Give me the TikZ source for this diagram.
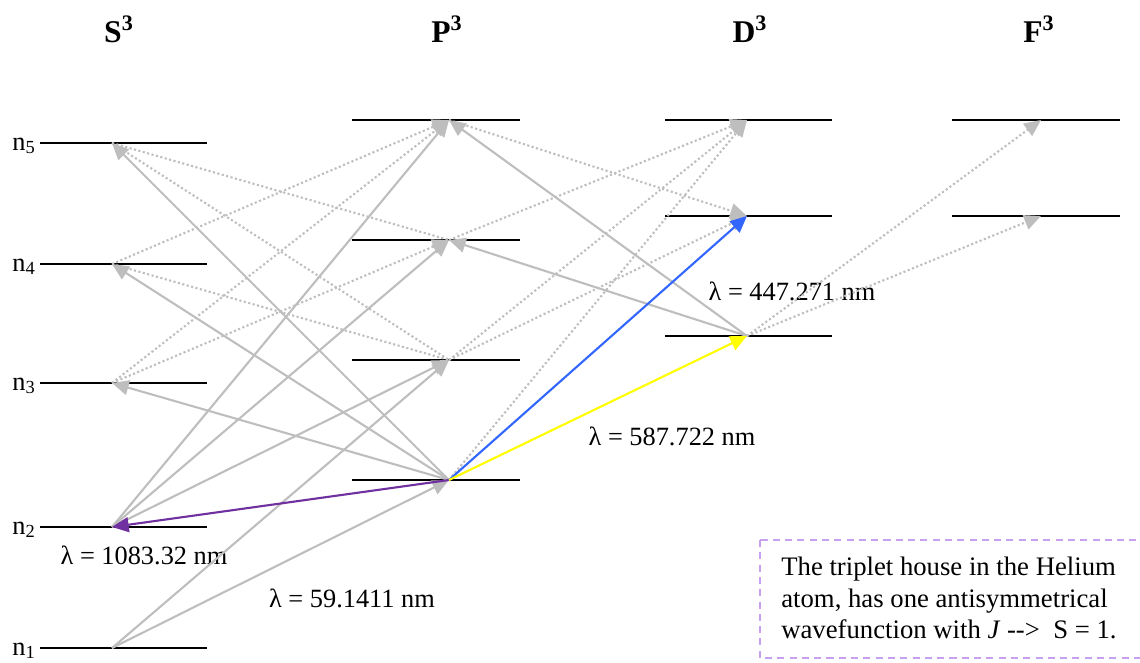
\documentclass[tikz,border=0pt]{standalone}
\usepackage{fontspec}
\setmainfont{Liberation Serif}
\usetikzlibrary{arrows.meta}
\definecolor{linegray}{RGB}{190, 190, 190}
\definecolor{heblue}{RGB}{51, 102, 255}
\definecolor{heyellow}{RGB}{255, 255, 0}
\definecolor{hepurple}{RGB}{112, 48, 160}
\definecolor{boxlilac}{RGB}{200, 160, 240}

\tikzset{
    termline/.style={black, line width=1.2pt},
    trans/.style={linegray, line width=1.2pt, -{Triangle[length=9.5pt, width=8.5pt]}},
    weak/.style={trans, dash pattern=on 1.2pt off 1.4pt},
    termtitle/.style={anchor=base, font=\fontsize{18}{21}\selectfont\bfseries},
    nlabel/.style={anchor=base east, inner sep=0pt, font=\fontsize{15}{18}\selectfont},
    wavelabel/.style={anchor=base, inner sep=0pt, font=\fontsize{15}{18}\selectfont},
    notetext/.style={anchor=north west, inner sep=0pt, align=left, font=\fontsize{15.2}{17.8}\selectfont},
    notebox/.style={boxlilac, line width=0.8pt, dash pattern=on 4pt off 3pt}
}

\begin{document}
\begin{tikzpicture}[x=0.02cm, y=-0.02cm]
            \useasboundingbox (0,0) rectangle (1140,663);

            % Term titles
            \node[termtitle] (tS) at (119,42) {S\textsuperscript{3}};
            \node[termtitle] (tP) at (447,42) {P\textsuperscript{3}};
            \node[termtitle] (tD) at (750,42) {D\textsuperscript{3}};
            \node[termtitle] (tF) at (1039,42) {F\textsuperscript{3}};

            % Energy levels
            \foreach \y/\n in {648/1, 527/2, 383/3, 264/4, 143/5} {
                \draw[termline] (40,\y) -- (207,\y);
                \coordinate (s\n) at (112,\y);
                \node[nlabel] (ln\n) at (36,\y+7) {n\textsubscript{\n}};
            }
            \foreach \y/\n in {480/1, 360/2, 240/3, 120/4} {
                \draw[termline] (352,\y) -- (520,\y);
                \coordinate (p\n) at (449,\y);
            }
            \foreach \y/\n in {336/1, 216/2, 120/3} {
                \draw[termline] (665,\y) -- (832,\y);
                \coordinate (d\n) at (747,\y);
            }
            \foreach \y/\n in {216/1, 120/2} {
                \draw[termline] (952,\y) -- (1120,\y);
                \coordinate (f\n) at (1041,\y);
            }

            % Wavelengths
            \node[wavelabel] (wl1) at (144,564) {λ = 1083.32 nm};
            \node[wavelabel] (wl2) at (352,607) {λ = 59.1411 nm};
            \node[wavelabel] (wl3) at (672,445) {λ = 587.722 nm};
            \node[wavelabel] (wl4) at (792,300) {λ = 447.271 nm};

            % Transitions
            \foreach \a/\b in {s1/p1, s1/p2, s2/p2, s2/p3, s2/p4, p1/s3, p1/s4, p1/s5, d1/p3, d1/p4} {
                \draw[trans] (\a) -- (\b);
            }
            \foreach \a/\b in {s3/p4, s3/p3, s4/p4, p1/d3, p2/d3, p3/d3, p2/d2, p4/d2, d1/f2, d1/f1} {
                \draw[weak] (\a) -- (\b);
            }
            \foreach \a/\b in {s5/p3, s5/p2, s4/p2} {
                \draw[weak, -] (\a) -- (\b);
            }
            \draw[trans, hepurple] (p1) -- (s2);
            \draw[trans, heblue] (p1) -- (d2);
            \draw[trans, heyellow] (p1) -- (d1);

            % Note
            \draw[notebox] (760,540) rectangle (1150,658);
            \node[notetext] (note) at (781,557) {The triplet house in the Helium\\atom, has one antisymmetrical\\wavefunction with \textit{J} -{}->\ \ S = 1.};
\end{tikzpicture}
\end{document}
